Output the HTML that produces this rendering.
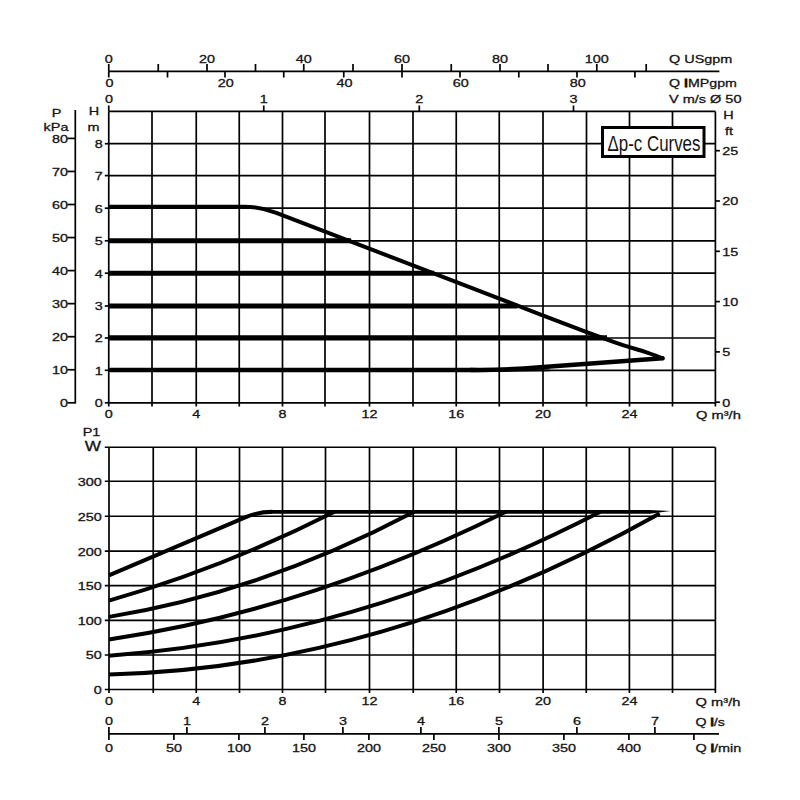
<!DOCTYPE html>
<html><head><meta charset="utf-8"><style>
html,body{margin:0;padding:0;background:#fff;width:800px;height:800px;overflow:hidden}
svg{display:block}
text{font-family:"Liberation Sans",sans-serif;fill:#141414}
</style></head><body>
<svg width="800" height="800" viewBox="0 0 800 800">
<rect width="800" height="800" fill="#fff"/>
<g stroke="#000" stroke-linecap="butt" fill="none">
<line x1="108.75" y1="111.40" x2="108.75" y2="406.50" stroke-width="1.7"/>
<line x1="152.00" y1="111.40" x2="152.00" y2="406.50" stroke-width="1.7"/>
<line x1="196.25" y1="111.40" x2="196.25" y2="406.50" stroke-width="1.7"/>
<line x1="239.25" y1="111.40" x2="239.25" y2="406.50" stroke-width="1.7"/>
<line x1="282.50" y1="111.40" x2="282.50" y2="406.50" stroke-width="1.7"/>
<line x1="325.00" y1="111.40" x2="325.00" y2="406.50" stroke-width="1.7"/>
<line x1="369.50" y1="111.40" x2="369.50" y2="406.50" stroke-width="1.7"/>
<line x1="413.00" y1="111.40" x2="413.00" y2="406.50" stroke-width="1.7"/>
<line x1="456.25" y1="111.40" x2="456.25" y2="406.50" stroke-width="1.7"/>
<line x1="499.25" y1="111.40" x2="499.25" y2="406.50" stroke-width="1.7"/>
<line x1="543.00" y1="111.40" x2="543.00" y2="406.50" stroke-width="1.7"/>
<line x1="586.50" y1="111.40" x2="586.50" y2="406.50" stroke-width="1.7"/>
<line x1="629.50" y1="111.40" x2="629.50" y2="406.50" stroke-width="1.7"/>
<line x1="672.50" y1="111.40" x2="672.50" y2="406.50" stroke-width="1.7"/>
<line x1="715.40" y1="111.40" x2="715.40" y2="406.50" stroke-width="1.7"/>
<line x1="108.75" y1="402.80" x2="715.40" y2="402.80" stroke-width="1.7"/>
<line x1="108.75" y1="370.30" x2="715.40" y2="370.30" stroke-width="1.7"/>
<line x1="108.75" y1="338.00" x2="715.40" y2="338.00" stroke-width="1.7"/>
<line x1="108.75" y1="306.00" x2="715.40" y2="306.00" stroke-width="1.7"/>
<line x1="108.75" y1="273.20" x2="715.40" y2="273.20" stroke-width="1.7"/>
<line x1="108.75" y1="240.80" x2="715.40" y2="240.80" stroke-width="1.7"/>
<line x1="108.75" y1="208.20" x2="715.40" y2="208.20" stroke-width="1.7"/>
<line x1="108.75" y1="175.60" x2="715.40" y2="175.60" stroke-width="1.7"/>
<line x1="108.75" y1="143.70" x2="715.40" y2="143.70" stroke-width="1.7"/>
<line x1="108.75" y1="111.40" x2="715.40" y2="111.40" stroke-width="1.7"/>
<line x1="108.75" y1="105.50" x2="108.75" y2="111.40" stroke-width="1.7"/>
<line x1="263.75" y1="105.50" x2="263.75" y2="111.40" stroke-width="1.7"/>
<line x1="419.30" y1="105.50" x2="419.30" y2="111.40" stroke-width="1.7"/>
<line x1="573.50" y1="105.50" x2="573.50" y2="111.40" stroke-width="1.7"/>
<line x1="104.80" y1="402.80" x2="108.75" y2="402.80" stroke-width="1.7"/>
<line x1="104.80" y1="370.30" x2="108.75" y2="370.30" stroke-width="1.7"/>
<line x1="104.80" y1="338.00" x2="108.75" y2="338.00" stroke-width="1.7"/>
<line x1="104.80" y1="306.00" x2="108.75" y2="306.00" stroke-width="1.7"/>
<line x1="104.80" y1="273.20" x2="108.75" y2="273.20" stroke-width="1.7"/>
<line x1="104.80" y1="240.80" x2="108.75" y2="240.80" stroke-width="1.7"/>
<line x1="104.80" y1="208.20" x2="108.75" y2="208.20" stroke-width="1.7"/>
<line x1="104.80" y1="175.60" x2="108.75" y2="175.60" stroke-width="1.7"/>
<line x1="104.80" y1="143.70" x2="108.75" y2="143.70" stroke-width="1.7"/>
<line x1="75.30" y1="110.00" x2="75.30" y2="403.40" stroke-width="1.7"/>
<line x1="67.50" y1="402.80" x2="75.30" y2="402.80" stroke-width="1.7"/>
<line x1="67.50" y1="369.75" x2="75.30" y2="369.75" stroke-width="1.7"/>
<line x1="67.50" y1="336.70" x2="75.30" y2="336.70" stroke-width="1.7"/>
<line x1="67.50" y1="303.65" x2="75.30" y2="303.65" stroke-width="1.7"/>
<line x1="67.50" y1="270.60" x2="75.30" y2="270.60" stroke-width="1.7"/>
<line x1="67.50" y1="237.55" x2="75.30" y2="237.55" stroke-width="1.7"/>
<line x1="67.50" y1="204.50" x2="75.30" y2="204.50" stroke-width="1.7"/>
<line x1="67.50" y1="171.45" x2="75.30" y2="171.45" stroke-width="1.7"/>
<line x1="67.50" y1="138.40" x2="75.30" y2="138.40" stroke-width="1.7"/>
<line x1="715.40" y1="402.20" x2="719.90" y2="402.20" stroke-width="1.7"/>
<line x1="715.40" y1="351.90" x2="719.90" y2="351.90" stroke-width="1.7"/>
<line x1="715.40" y1="301.60" x2="719.90" y2="301.60" stroke-width="1.7"/>
<line x1="715.40" y1="251.30" x2="719.90" y2="251.30" stroke-width="1.7"/>
<line x1="715.40" y1="201.00" x2="719.90" y2="201.00" stroke-width="1.7"/>
<line x1="715.40" y1="150.70" x2="719.90" y2="150.70" stroke-width="1.7"/>
<line x1="108.75" y1="71.30" x2="719.40" y2="71.30" stroke-width="1.7"/>
<line x1="108.75" y1="64.00" x2="108.75" y2="71.30" stroke-width="1.7"/>
<line x1="158.25" y1="64.00" x2="158.25" y2="71.30" stroke-width="1.7"/>
<line x1="207.00" y1="64.00" x2="207.00" y2="71.30" stroke-width="1.7"/>
<line x1="255.50" y1="64.00" x2="255.50" y2="71.30" stroke-width="1.7"/>
<line x1="303.75" y1="64.00" x2="303.75" y2="71.30" stroke-width="1.7"/>
<line x1="353.00" y1="64.00" x2="353.00" y2="71.30" stroke-width="1.7"/>
<line x1="402.00" y1="64.00" x2="402.00" y2="71.30" stroke-width="1.7"/>
<line x1="451.25" y1="64.00" x2="451.25" y2="71.30" stroke-width="1.7"/>
<line x1="500.00" y1="64.00" x2="500.00" y2="71.30" stroke-width="1.7"/>
<line x1="548.00" y1="64.00" x2="548.00" y2="71.30" stroke-width="1.7"/>
<line x1="596.80" y1="64.00" x2="596.80" y2="71.30" stroke-width="1.7"/>
<line x1="646.20" y1="64.00" x2="646.20" y2="71.30" stroke-width="1.7"/>
<line x1="108.75" y1="71.30" x2="108.75" y2="77.50" stroke-width="1.7"/>
<line x1="167.50" y1="71.30" x2="167.50" y2="77.50" stroke-width="1.7"/>
<line x1="225.00" y1="71.30" x2="225.00" y2="77.50" stroke-width="1.7"/>
<line x1="283.75" y1="71.30" x2="283.75" y2="77.50" stroke-width="1.7"/>
<line x1="343.75" y1="71.30" x2="343.75" y2="77.50" stroke-width="1.7"/>
<line x1="402.00" y1="71.30" x2="402.00" y2="77.50" stroke-width="1.7"/>
<line x1="460.00" y1="71.30" x2="460.00" y2="77.50" stroke-width="1.7"/>
<line x1="518.80" y1="71.30" x2="518.80" y2="77.50" stroke-width="1.7"/>
<line x1="577.00" y1="71.30" x2="577.00" y2="77.50" stroke-width="1.7"/>
<line x1="634.90" y1="71.30" x2="634.90" y2="77.50" stroke-width="1.7"/>
<line x1="109.00" y1="447.25" x2="109.00" y2="693.00" stroke-width="1.7"/>
<line x1="153.25" y1="447.25" x2="153.25" y2="693.00" stroke-width="1.7"/>
<line x1="196.25" y1="447.25" x2="196.25" y2="693.00" stroke-width="1.7"/>
<line x1="239.50" y1="447.25" x2="239.50" y2="693.00" stroke-width="1.7"/>
<line x1="282.50" y1="447.25" x2="282.50" y2="693.00" stroke-width="1.7"/>
<line x1="325.50" y1="447.25" x2="325.50" y2="693.00" stroke-width="1.7"/>
<line x1="369.50" y1="447.25" x2="369.50" y2="693.00" stroke-width="1.7"/>
<line x1="413.25" y1="447.25" x2="413.25" y2="693.00" stroke-width="1.7"/>
<line x1="456.25" y1="447.25" x2="456.25" y2="693.00" stroke-width="1.7"/>
<line x1="499.50" y1="447.25" x2="499.50" y2="693.00" stroke-width="1.7"/>
<line x1="543.10" y1="447.25" x2="543.10" y2="693.00" stroke-width="1.7"/>
<line x1="586.25" y1="447.25" x2="586.25" y2="693.00" stroke-width="1.7"/>
<line x1="629.40" y1="447.25" x2="629.40" y2="693.00" stroke-width="1.7"/>
<line x1="672.50" y1="447.25" x2="672.50" y2="693.00" stroke-width="1.7"/>
<line x1="715.40" y1="447.25" x2="715.40" y2="693.00" stroke-width="1.7"/>
<line x1="104.80" y1="689.50" x2="715.40" y2="689.50" stroke-width="1.7"/>
<line x1="104.80" y1="655.00" x2="715.40" y2="655.00" stroke-width="1.7"/>
<line x1="104.80" y1="620.40" x2="715.40" y2="620.40" stroke-width="1.7"/>
<line x1="104.80" y1="585.70" x2="715.40" y2="585.70" stroke-width="1.7"/>
<line x1="104.80" y1="551.20" x2="715.40" y2="551.20" stroke-width="1.7"/>
<line x1="104.80" y1="516.25" x2="715.40" y2="516.25" stroke-width="1.7"/>
<line x1="104.80" y1="481.25" x2="715.40" y2="481.25" stroke-width="1.7"/>
<line x1="104.80" y1="447.25" x2="715.40" y2="447.25" stroke-width="1.7"/>
<line x1="109.00" y1="733.90" x2="719.00" y2="733.90" stroke-width="1.7"/>
<line x1="108.90" y1="727.00" x2="108.90" y2="733.90" stroke-width="1.7"/>
<line x1="186.90" y1="727.00" x2="186.90" y2="733.90" stroke-width="1.7"/>
<line x1="264.90" y1="727.00" x2="264.90" y2="733.90" stroke-width="1.7"/>
<line x1="342.90" y1="727.00" x2="342.90" y2="733.90" stroke-width="1.7"/>
<line x1="420.90" y1="727.00" x2="420.90" y2="733.90" stroke-width="1.7"/>
<line x1="498.90" y1="727.00" x2="498.90" y2="733.90" stroke-width="1.7"/>
<line x1="576.90" y1="727.00" x2="576.90" y2="733.90" stroke-width="1.7"/>
<line x1="654.90" y1="727.00" x2="654.90" y2="733.90" stroke-width="1.7"/>
<line x1="108.90" y1="733.90" x2="108.90" y2="740.00" stroke-width="1.7"/>
<line x1="173.90" y1="733.90" x2="173.90" y2="740.00" stroke-width="1.7"/>
<line x1="238.90" y1="733.90" x2="238.90" y2="740.00" stroke-width="1.7"/>
<line x1="303.90" y1="733.90" x2="303.90" y2="740.00" stroke-width="1.7"/>
<line x1="368.90" y1="733.90" x2="368.90" y2="740.00" stroke-width="1.7"/>
<line x1="433.90" y1="733.90" x2="433.90" y2="740.00" stroke-width="1.7"/>
<line x1="498.90" y1="733.90" x2="498.90" y2="740.00" stroke-width="1.7"/>
<line x1="563.90" y1="733.90" x2="563.90" y2="740.00" stroke-width="1.7"/>
<line x1="628.90" y1="733.90" x2="628.90" y2="740.00" stroke-width="1.7"/>
<line x1="693.90" y1="733.90" x2="693.90" y2="740.00" stroke-width="1.7"/>
<path d="M110.10000000000001,206.7 L244.32,206.7 Q260.32,206.7 276.32,212.85 L450,279.65 C465.00,285.42 516.67,305.32 540.00,314.27 C563.33,323.21 576.67,328.31 590.00,333.30 C603.33,338.29 610.83,341.10 620.00,344.20 C629.17,347.30 637.92,349.57 645.00,351.90 C652.08,354.23 659.58,357.15 662.50,358.20" stroke-width="4.0" fill="none" stroke-linecap="round"/>
<path d="M108.9,240.7 L351.00,240.7" stroke-width="5.1" fill="none" />
<path d="M108.9,273.3 L434.00,273.3" stroke-width="5.1" fill="none" />
<path d="M108.9,306.0 L517.50,306.0" stroke-width="5.1" fill="none" />
<path d="M108.9,337.9 L607.00,337.9" stroke-width="5.1" fill="none" />
<path d="M470,367.8 L550,369.6 L550,371.2 L470,372.2 Z" fill="#000" stroke="none"/>
<path d="M110.4,370.0 L480,370.0 Q510,369.9 540,367.27 L662.5,358.3" stroke-width="4.5" fill="none" stroke-linejoin="round" stroke-linecap="round"/>
<path d="M108.90,575.31 Q177.63,546.08 246.36,516.89 Q258.36,511.8 272.36,511.8" stroke-width="4.0" fill="none" />
<path d="M108.90,600.57 Q221.74,568.81 334.58,511.80" stroke-width="4.0" fill="none" />
<path d="M108.90,616.86 Q261.51,592.27 414.12,511.80" stroke-width="4.0" fill="none" />
<path d="M108.90,639.41 Q307.39,610.46 505.89,511.80" stroke-width="4.0" fill="none" />
<path d="M108.90,655.67 Q354.66,638.41 600.42,511.80" stroke-width="4.0" fill="none" />
<path d="M108.90,674.44 Q384.29,667.92 659.67,513.40" stroke-width="4.0" fill="none" />
<path d="M268.36,511.8 L650,511.8" stroke-width="3.8" fill="none" />
<path d="M649.5,509.9 L670.6,510.9 L649.5,513.7 Z" fill="#000" stroke="none"/>
</g>
<rect x="602.5" y="127.5" width="101.5" height="29" fill="#fff" stroke="#000" stroke-width="3"/>
<text transform="translate(607.5 150.8) scale(0.79 1)" font-size="21.4" fill="#1a1a1a">&#916;p-c Curves</text>
<g stroke="#141414" stroke-width="0.3">
<text transform="translate(108.75 63.00) scale(1.235 1)" text-anchor="middle" font-size="11.65" >0</text>
<text transform="translate(207.00 63.00) scale(1.235 1)" text-anchor="middle" font-size="11.65" >20</text>
<text transform="translate(303.75 63.00) scale(1.235 1)" text-anchor="middle" font-size="11.65" >40</text>
<text transform="translate(402.00 63.00) scale(1.235 1)" text-anchor="middle" font-size="11.65" >60</text>
<text transform="translate(500.00 63.00) scale(1.235 1)" text-anchor="middle" font-size="11.65" >80</text>
<text transform="translate(596.80 63.00) scale(1.235 1)" text-anchor="middle" font-size="11.65" >100</text>
<text transform="translate(109.45 87.00) scale(1.235 1)" text-anchor="middle" font-size="11.65" >0</text>
<text transform="translate(225.70 87.00) scale(1.235 1)" text-anchor="middle" font-size="11.65" >20</text>
<text transform="translate(344.45 87.00) scale(1.235 1)" text-anchor="middle" font-size="11.65" >40</text>
<text transform="translate(460.70 87.00) scale(1.235 1)" text-anchor="middle" font-size="11.65" >60</text>
<text transform="translate(577.70 87.00) scale(1.235 1)" text-anchor="middle" font-size="11.65" >80</text>
<text transform="translate(108.90 103.30) scale(1.235 1)" text-anchor="middle" font-size="11.65" >0</text>
<text transform="translate(263.75 103.30) scale(1.235 1)" text-anchor="middle" font-size="11.65" >1</text>
<text transform="translate(419.30 103.30) scale(1.235 1)" text-anchor="middle" font-size="11.65" >2</text>
<text transform="translate(573.50 103.30) scale(1.235 1)" text-anchor="middle" font-size="11.65" >3</text>
<text transform="translate(669.00 63.00) scale(1.24 1)" text-anchor="start" font-size="11.65" >Q USgpm</text>
<text transform="translate(669.00 87.00) scale(1.22 1)" text-anchor="start" font-size="11.65" >Q <tspan stroke-width="1.1">I</tspan>MPgpm</text>
<text transform="translate(669.00 103.30) scale(1.245 1)" text-anchor="start" font-size="11.65" >V m/s &#216; 50</text>
<text transform="translate(56.50 117.00) scale(1.235 1)" text-anchor="middle" font-size="11.65" >P</text>
<text transform="translate(56.00 131.00) scale(1.235 1)" text-anchor="middle" font-size="11.65" >kPa</text>
<text transform="translate(94.00 115.40) scale(1.235 1)" text-anchor="middle" font-size="11.65" >H</text>
<text transform="translate(93.50 131.00) scale(1.235 1)" text-anchor="middle" font-size="11.65" >m</text>
<text transform="translate(67.90 407.10) scale(1.235 1)" text-anchor="end" font-size="11.65" >0</text>
<text transform="translate(67.90 374.05) scale(1.235 1)" text-anchor="end" font-size="11.65" >10</text>
<text transform="translate(67.90 341.00) scale(1.235 1)" text-anchor="end" font-size="11.65" >20</text>
<text transform="translate(67.90 307.95) scale(1.235 1)" text-anchor="end" font-size="11.65" >30</text>
<text transform="translate(67.90 274.90) scale(1.235 1)" text-anchor="end" font-size="11.65" >40</text>
<text transform="translate(67.90 241.85) scale(1.235 1)" text-anchor="end" font-size="11.65" >50</text>
<text transform="translate(67.90 208.80) scale(1.235 1)" text-anchor="end" font-size="11.65" >60</text>
<text transform="translate(67.90 175.75) scale(1.235 1)" text-anchor="end" font-size="11.65" >70</text>
<text transform="translate(67.90 142.70) scale(1.235 1)" text-anchor="end" font-size="11.65" >80</text>
<text transform="translate(102.80 407.10) scale(1.235 1)" text-anchor="end" font-size="11.65" >0</text>
<text transform="translate(102.80 374.60) scale(1.235 1)" text-anchor="end" font-size="11.65" >1</text>
<text transform="translate(102.80 342.30) scale(1.235 1)" text-anchor="end" font-size="11.65" >2</text>
<text transform="translate(102.80 310.30) scale(1.235 1)" text-anchor="end" font-size="11.65" >3</text>
<text transform="translate(102.80 277.50) scale(1.235 1)" text-anchor="end" font-size="11.65" >4</text>
<text transform="translate(102.80 245.10) scale(1.235 1)" text-anchor="end" font-size="11.65" >5</text>
<text transform="translate(102.80 212.50) scale(1.235 1)" text-anchor="end" font-size="11.65" >6</text>
<text transform="translate(102.80 179.90) scale(1.235 1)" text-anchor="end" font-size="11.65" >7</text>
<text transform="translate(102.80 148.00) scale(1.235 1)" text-anchor="end" font-size="11.65" >8</text>
<text transform="translate(722.30 406.50) scale(1.235 1)" text-anchor="start" font-size="11.65" >0</text>
<text transform="translate(722.30 356.20) scale(1.235 1)" text-anchor="start" font-size="11.65" >5</text>
<text transform="translate(722.30 305.90) scale(1.235 1)" text-anchor="start" font-size="11.65" >10</text>
<text transform="translate(722.30 255.60) scale(1.235 1)" text-anchor="start" font-size="11.65" >15</text>
<text transform="translate(722.30 205.30) scale(1.235 1)" text-anchor="start" font-size="11.65" >20</text>
<text transform="translate(722.30 155.00) scale(1.235 1)" text-anchor="start" font-size="11.65" >25</text>
<text transform="translate(728.50 119.00) scale(1.235 1)" text-anchor="middle" font-size="11.65" >H</text>
<text transform="translate(729.00 134.80) scale(1.235 1)" text-anchor="middle" font-size="11.65" >ft</text>
<text transform="translate(108.75 417.90) scale(1.235 1)" text-anchor="middle" font-size="11.65" >0</text>
<text transform="translate(196.25 417.90) scale(1.235 1)" text-anchor="middle" font-size="11.65" >4</text>
<text transform="translate(282.50 417.90) scale(1.235 1)" text-anchor="middle" font-size="11.65" >8</text>
<text transform="translate(369.50 417.90) scale(1.235 1)" text-anchor="middle" font-size="11.65" >12</text>
<text transform="translate(456.25 417.90) scale(1.235 1)" text-anchor="middle" font-size="11.65" >16</text>
<text transform="translate(543.00 417.90) scale(1.235 1)" text-anchor="middle" font-size="11.65" >20</text>
<text transform="translate(629.50 417.90) scale(1.235 1)" text-anchor="middle" font-size="11.65" >24</text>
<text transform="translate(696.00 418.80) scale(1.26 1)" text-anchor="start" font-size="11.65" >Q m&#179;/h</text>
<text transform="translate(91.50 435.60) scale(1.235 1)" text-anchor="middle" font-size="11.65" >P1</text>
<text transform="translate(92.80 451.20) scale(1.235 1)" text-anchor="middle" font-size="14" >W</text>
<text transform="translate(101.80 693.80) scale(1.235 1)" text-anchor="end" font-size="11.65" >0</text>
<text transform="translate(101.80 659.30) scale(1.235 1)" text-anchor="end" font-size="11.65" >50</text>
<text transform="translate(101.80 624.70) scale(1.235 1)" text-anchor="end" font-size="11.65" >100</text>
<text transform="translate(101.80 590.00) scale(1.235 1)" text-anchor="end" font-size="11.65" >150</text>
<text transform="translate(101.80 555.50) scale(1.235 1)" text-anchor="end" font-size="11.65" >200</text>
<text transform="translate(101.80 520.55) scale(1.235 1)" text-anchor="end" font-size="11.65" >250</text>
<text transform="translate(101.80 485.55) scale(1.235 1)" text-anchor="end" font-size="11.65" >300</text>
<text transform="translate(109.00 705.00) scale(1.235 1)" text-anchor="middle" font-size="11.65" >0</text>
<text transform="translate(196.25 705.00) scale(1.235 1)" text-anchor="middle" font-size="11.65" >4</text>
<text transform="translate(282.50 705.00) scale(1.235 1)" text-anchor="middle" font-size="11.65" >8</text>
<text transform="translate(369.50 705.00) scale(1.235 1)" text-anchor="middle" font-size="11.65" >12</text>
<text transform="translate(456.25 705.00) scale(1.235 1)" text-anchor="middle" font-size="11.65" >16</text>
<text transform="translate(543.10 705.00) scale(1.235 1)" text-anchor="middle" font-size="11.65" >20</text>
<text transform="translate(629.40 705.00) scale(1.235 1)" text-anchor="middle" font-size="11.65" >24</text>
<text transform="translate(695.60 705.50) scale(1.26 1)" text-anchor="start" font-size="11.65" >Q m&#179;/h</text>
<text transform="translate(108.90 725.30) scale(1.235 1)" text-anchor="middle" font-size="11.65" >0</text>
<text transform="translate(186.90 725.30) scale(1.235 1)" text-anchor="middle" font-size="11.65" >1</text>
<text transform="translate(264.90 725.30) scale(1.235 1)" text-anchor="middle" font-size="11.65" >2</text>
<text transform="translate(342.90 725.30) scale(1.235 1)" text-anchor="middle" font-size="11.65" >3</text>
<text transform="translate(420.90 725.30) scale(1.235 1)" text-anchor="middle" font-size="11.65" >4</text>
<text transform="translate(498.90 725.30) scale(1.235 1)" text-anchor="middle" font-size="11.65" >5</text>
<text transform="translate(576.90 725.30) scale(1.235 1)" text-anchor="middle" font-size="11.65" >6</text>
<text transform="translate(654.90 725.30) scale(1.235 1)" text-anchor="middle" font-size="11.65" >7</text>
<text transform="translate(695.60 725.50) scale(1.22 1)" text-anchor="start" font-size="11.65" >Q <tspan stroke-width="1.1">l</tspan>/s</text>
<text transform="translate(108.90 751.80) scale(1.235 1)" text-anchor="middle" font-size="11.65" >0</text>
<text transform="translate(173.90 751.80) scale(1.235 1)" text-anchor="middle" font-size="11.65" >50</text>
<text transform="translate(238.90 751.80) scale(1.235 1)" text-anchor="middle" font-size="11.65" >100</text>
<text transform="translate(303.90 751.80) scale(1.235 1)" text-anchor="middle" font-size="11.65" >150</text>
<text transform="translate(368.90 751.80) scale(1.235 1)" text-anchor="middle" font-size="11.65" >200</text>
<text transform="translate(433.90 751.80) scale(1.235 1)" text-anchor="middle" font-size="11.65" >250</text>
<text transform="translate(498.90 751.80) scale(1.235 1)" text-anchor="middle" font-size="11.65" >300</text>
<text transform="translate(563.90 751.80) scale(1.235 1)" text-anchor="middle" font-size="11.65" >350</text>
<text transform="translate(628.90 751.80) scale(1.235 1)" text-anchor="middle" font-size="11.65" >400</text>
<text transform="translate(695.60 751.80) scale(1.24 1)" text-anchor="start" font-size="11.65" >Q <tspan stroke-width="1.1">l</tspan>/min</text>
</g>
</svg>
</body></html>
